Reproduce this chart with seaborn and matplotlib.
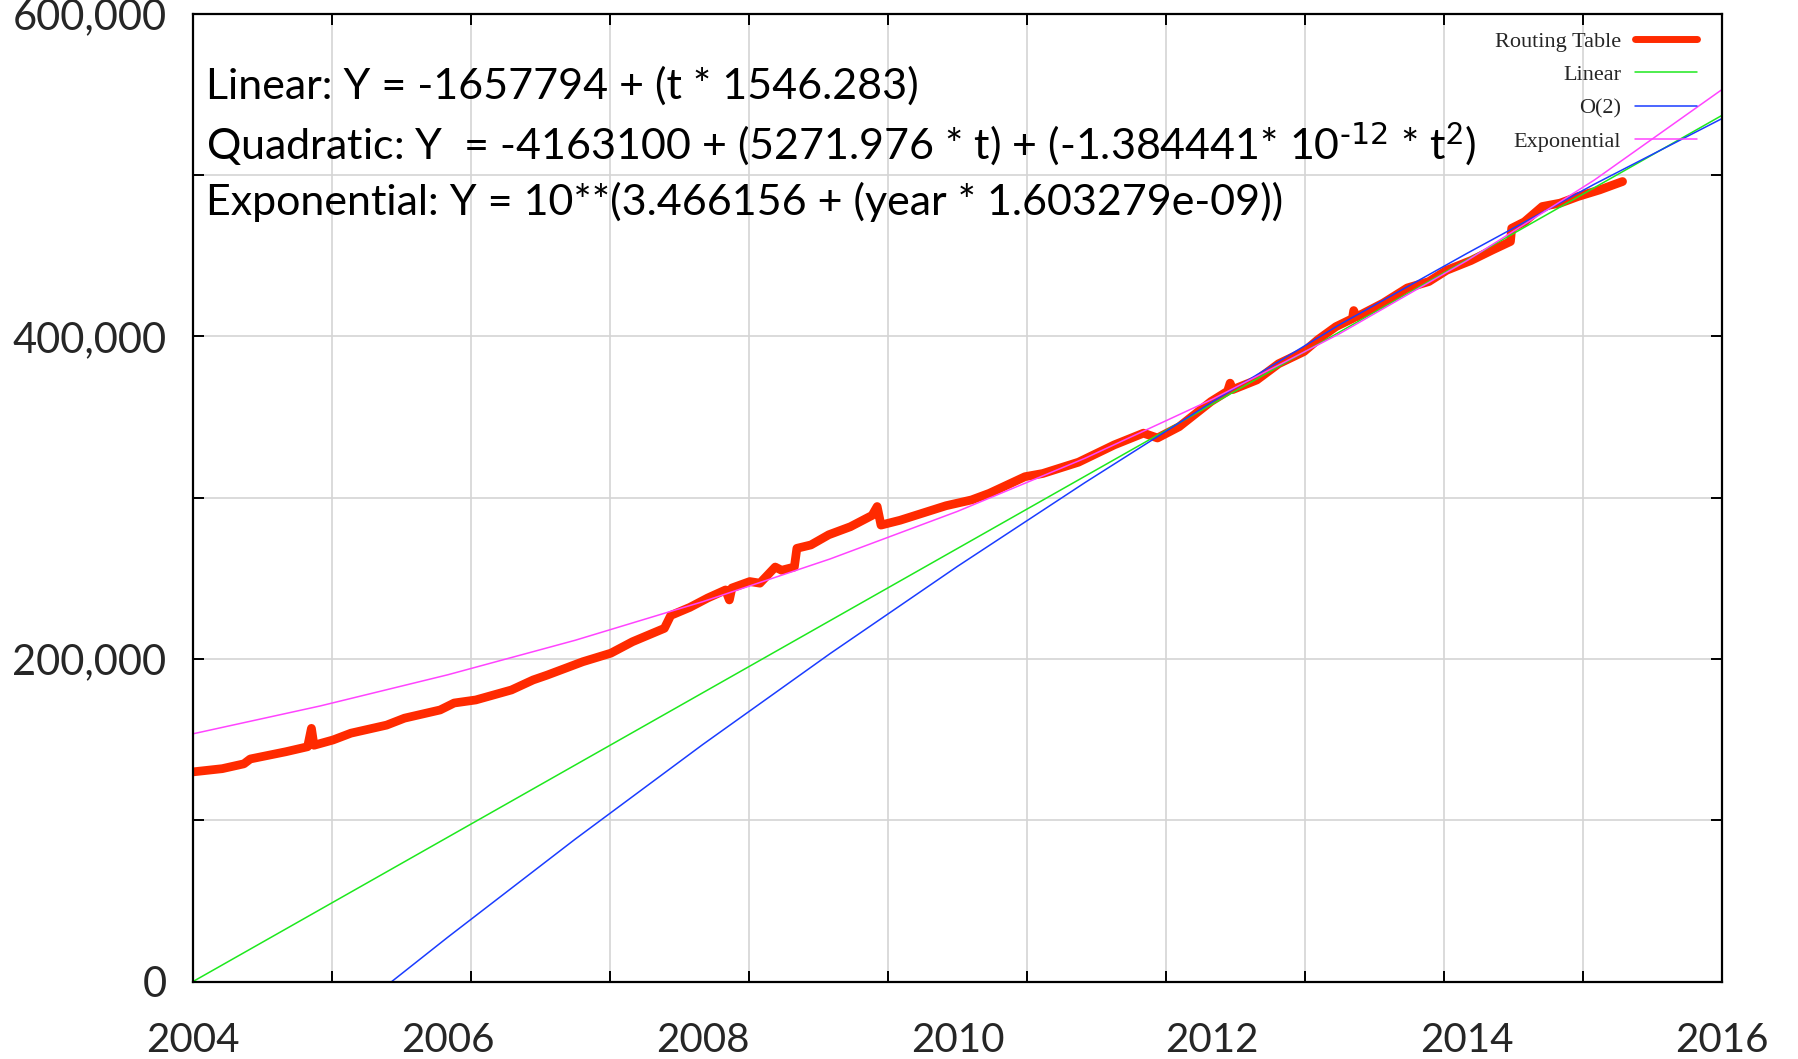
import numpy as np
import pandas as pd
import matplotlib
matplotlib.use("Agg")
import matplotlib.pyplot as plt
import seaborn as sns

# ---------------- data ----------------
rt_years = [2004.00, 2004.23, 2004.40, 2004.45, 2004.73, 2004.90, 2004.93, 2004.95,
            2005.10, 2005.24, 2005.52, 2005.66, 2005.94, 2006.05, 2006.22, 2006.50,
            2006.67, 2006.78, 2007.06, 2007.28, 2007.45, 2007.70, 2007.75, 2007.90,
            2008.04, 2008.18, 2008.21, 2008.23, 2008.37, 2008.45, 2008.57, 2008.62,
            2008.72, 2008.74, 2008.85, 2008.99, 2009.16, 2009.33, 2009.37, 2009.40,
            2009.55, 2009.71, 2009.91, 2010.11, 2010.25, 2010.53, 2010.67, 2010.95,
            2011.23, 2011.46, 2011.57, 2011.74, 2011.99, 2012.12, 2012.14, 2012.16,
            2012.35, 2012.52, 2012.72, 2012.83, 2012.97, 2013.10, 2013.11, 2013.13,
            2013.34, 2013.53, 2013.70, 2013.84, 2014.03, 2014.20, 2014.34, 2014.35,
            2014.45, 2014.59, 2014.73, 2014.87, 2015.04, 2015.15, 2015.22]
rt_values = [130000, 132000, 135000, 138000, 142500, 145600, 157000, 146500,
             149800, 154000, 159000, 163300, 168400, 172700, 174600, 180800,
             187000, 190000, 198300, 203600, 210700, 219000, 227000, 232000,
             237800, 242800, 236600, 244000, 248000, 247000, 257000, 255000,
             257000, 268600, 270700, 277000, 282000, 289000, 294500, 283000,
             286000, 290000, 295000, 298600, 302700, 313000, 315000, 322000,
             332700, 340000, 337000, 344000, 359600, 366000, 371000, 367000,
             373000, 383000, 390600, 398000, 406000, 411000, 416000, 412000,
             420600, 430000, 434000, 441000, 447000, 453600, 458800, 467000,
             471000, 480500, 482600, 486700, 490800, 494000, 496000]

lin_years = [2004, 2016]
lin_values = [0, 537000]

quad_years = [2005.56, 2006, 2007, 2008, 2009, 2010, 2011, 2012, 2013, 2014, 2015, 2016]
quad_values = [0, 27500, 88300, 146900, 203300, 257400, 309300, 359400, 407300,
               451500, 494400, 535000]

exp_years = [2004, 2005, 2006, 2007, 2008, 2009, 2010, 2011, 2012, 2013, 2014, 2015, 2016]
exp_values = [153600, 170900, 190200, 211600, 235500, 262000, 291500, 324400,
              361000, 401700, 447000, 497000, 553000]

series_names = ["Routing Table", "Linear", "O(2)", "Exponential"]
x_tick_labels = ["2004", "2006", "2008", "2010", "2012", "2014", "2016"]
y_tick_labels = ["0", "200,000", "400,000", "600,000"]

eq_lines = [
    "Linear: Y = -1657794 + (t * 1546.283)",
    r"Quadratic: Y  = -4163100 + (5271.976 * t) + (-1.384441* 10$^{\text{-12}}$ * t$^{2}$)",
    "Exponential: Y = 10**(3.466156 + (year * 1.603279e-09))",
]

# ---------------- styling ----------------
sns.set_theme(style="white")
plt.rcParams["font.family"] = ["Lato", "DejaVu Sans"]
plt.rcParams["mathtext.default"] = "regular"

fig = plt.figure(figsize=(17.98, 10.59), dpi=100)
ax = fig.add_axes([0.1073, 0.0731, 0.8504, 0.9139])

def frame(years, values, name):
    return pd.DataFrame({"year": years, "value": values, "series": name})

sns.lineplot(data=frame(rt_years, rt_values, series_names[0]), x="year", y="value",
             color="#ff2a00", linewidth=6.3, ax=ax, label=series_names[0],
             solid_joinstyle="round", solid_capstyle="round")
sns.lineplot(data=frame(lin_years, lin_values, series_names[1]), x="year", y="value",
             color="#1ee81e", linewidth=1.1, ax=ax, label=series_names[1])
sns.lineplot(data=frame(quad_years, quad_values, series_names[2]), x="year", y="value",
             color="#1a3cff", linewidth=1.1, ax=ax, label=series_names[2])
sns.lineplot(data=frame(exp_years, exp_values, series_names[3]), x="year", y="value",
             color="#ff44ff", linewidth=1.1, ax=ax, label=series_names[3])

ax.set_xlim(2004, 2016)
ax.set_ylim(0, 600000)
ax.set_xlabel("")
ax.set_ylabel("")

# x: grid/ticks divide the axis into 11 parts, labels every two years
ax.xaxis.remove_overlapping_locs = False
ax.set_xticks(np.linspace(2004, 2016, 12))
ax.set_xticklabels([])
label_pos = [int(s) for s in x_tick_labels]
ax.set_xticks(label_pos, minor=True)
ax.set_xticklabels(x_tick_labels, minor=True)
ax.tick_params(axis="x", which="minor", length=0, pad=29, labelsize=29)
ax.tick_params(axis="x", which="major", direction="in", length=8, width=1.4,
               top=True, bottom=True, color="black")

ax.set_yticks([int(s.replace(",", "")) for s in y_tick_labels])
ax.set_yticklabels(y_tick_labels)
ax.set_yticks([100000, 300000, 500000], minor=True)
ax.tick_params(axis="y", which="both", direction="in", length=8, width=1.4,
               left=True, right=True, color="black", pad=19, labelsize=30)

ax.grid(True, which="major", axis="x", color="#d4d4d4", linewidth=1.2)
ax.grid(True, which="both", axis="y", color="#d4d4d4", linewidth=1.2)
ax.set_axisbelow(True)
for sp in ax.spines.values():
    sp.set_visible(True)
    sp.set_color("black")
    sp.set_linewidth(1.6)

# equations
for i, line in enumerate(eq_lines):
    ax.text(0.0085, 0.925 - i * 0.0595, line, transform=ax.transAxes,
            fontsize=31, va="center", ha="left", color="black")

# legend (rows right-aligned, sample line after the text)
leg = ax.legend(loc="upper right", bbox_to_anchor=(0.9836, 0.982), frameon=False,
                markerfirst=False, handlelength=2.8, handletextpad=0.6,
                labelspacing=0.58, borderpad=0, borderaxespad=0,
                prop={"family": "Liberation Serif", "size": 16})
leg.get_lines()[0].set_linewidth(5)

fig.savefig("out.png", dpi=100)
